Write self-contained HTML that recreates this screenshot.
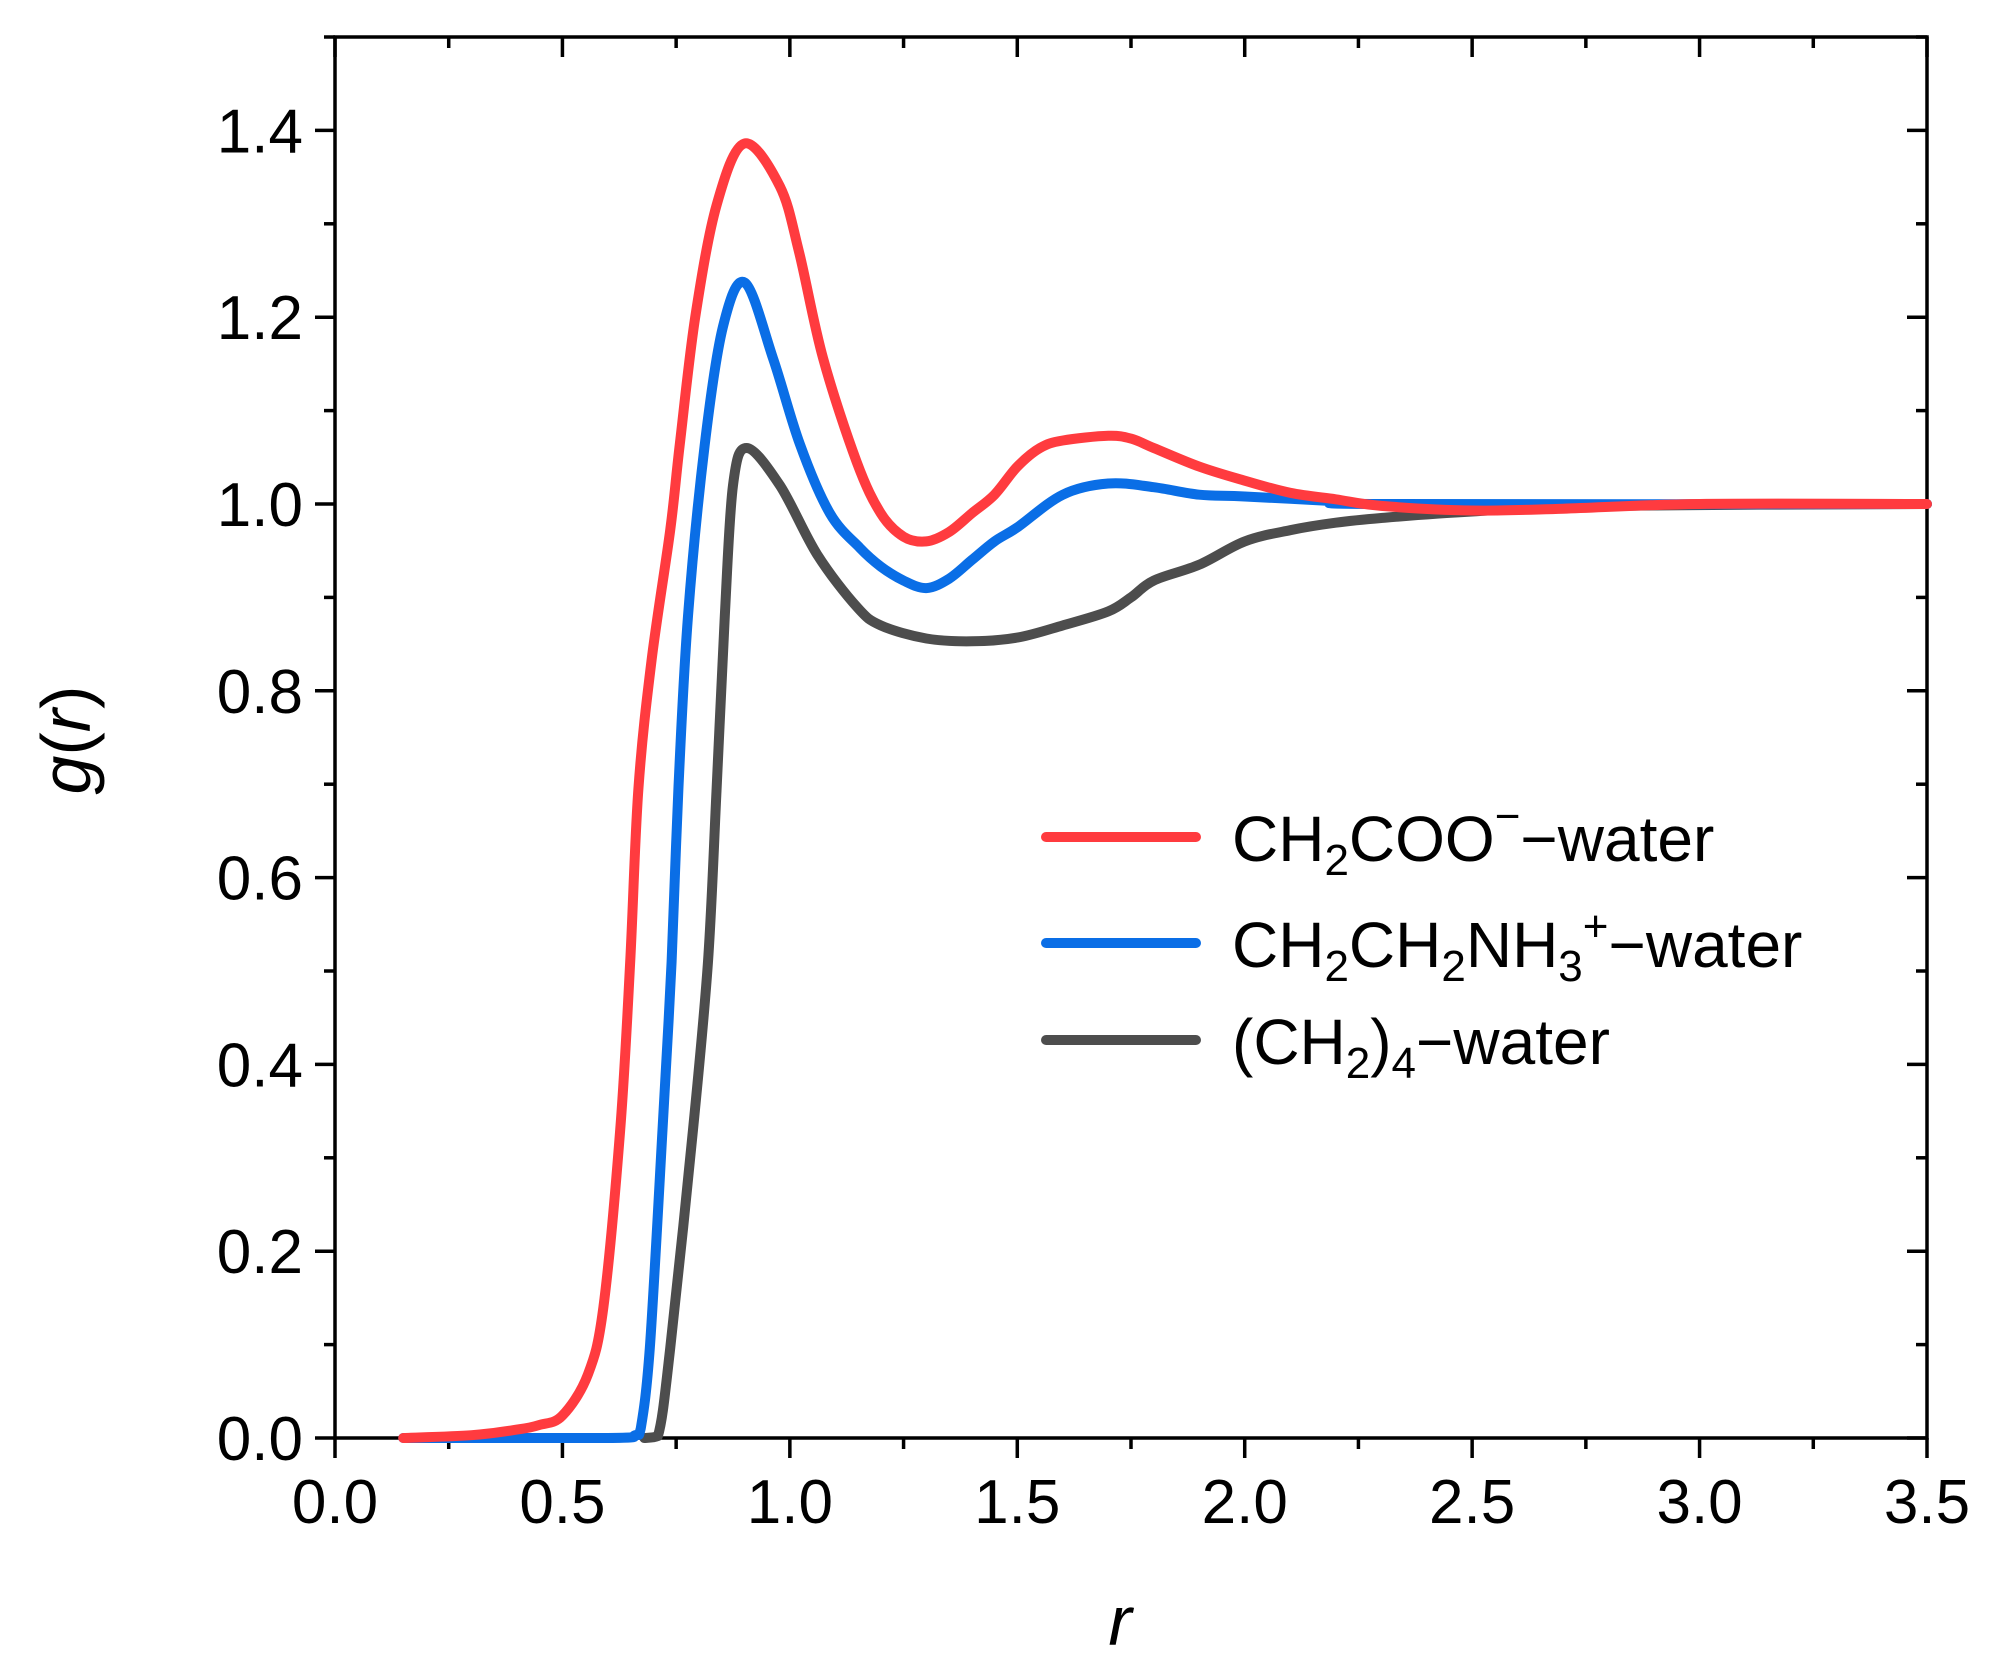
<!DOCTYPE html>
<html><head><meta charset="utf-8"><style>
html,body{margin:0;padding:0;background:#fff;}
svg{display:block;font-family:"Liberation Sans",Arial,sans-serif;}
</style></head><body>
<svg id="chart" width="1993" height="1677" viewBox="0 0 1993 1677">
<g id="axes"></g>
<g id="series"></g>
<g id="legend"></g>
</svg>
<script>
const xTicks=[0,0.5,1.0,1.5,2.0,2.5,3.0,3.5];
const xTickLabels=["0.0","0.5","1.0","1.5","2.0","2.5","3.0","3.5"];
const yTicks=[0,0.2,0.4,0.6,0.8,1.0,1.2,1.4];
const yTickLabels=["0.0","0.2","0.4","0.6","0.8","1.0","1.2","1.4"];
const redR=[0.15,0.3,0.4,0.45,0.5,0.556,0.59,0.627,0.649,0.667,0.696,0.737,0.758,0.792,0.839,0.9,0.978,1.02,1.073,1.147,1.2,1.25,1.3,1.35,1.4,1.45,1.5,1.55,1.6,1.7,1.75,1.8,1.9,2.0,2.1,2.2,2.3,2.5,2.7,3.0,3.5];
const redG=[0,0.003,0.009,0.014,0.024,0.068,0.14,0.33,0.51,0.695,0.833,0.972,1.064,1.2,1.32,1.386,1.34,1.27,1.156,1.045,0.99,0.965,0.96,0.97,0.99,1.01,1.04,1.06,1.068,1.073,1.07,1.06,1.04,1.025,1.012,1.005,0.998,0.993,0.995,1.0,1.0];
const blueR=[0.15,0.6,0.66,0.672,0.692,0.72,0.74,0.755,0.776,0.813,0.853,0.901,0.963,1.022,1.088,1.154,1.2,1.25,1.3,1.35,1.4,1.45,1.5,1.6,1.7,1.8,1.9,2.0,2.2,2.3,3.5];
const blueG=[0,0,0.003,0.01,0.096,0.33,0.51,0.695,0.88,1.064,1.19,1.237,1.156,1.064,0.99,0.953,0.933,0.918,0.91,0.92,0.94,0.96,0.975,1.01,1.022,1.018,1.01,1.008,1.003,1.0,1.0];
const grayR=[0.68,0.71,0.737,0.787,0.82,0.839,0.857,0.875,0.905,0.978,1.06,1.147,1.2,1.3,1.4,1.5,1.6,1.7,1.75,1.8,1.9,2.0,2.1,2.2,2.3,2.5,2.8,3.5];
const grayG=[0,0.002,0.096,0.33,0.51,0.695,0.88,1.02,1.06,1.02,0.946,0.89,0.87,0.856,0.853,0.857,0.87,0.885,0.9,0.918,0.935,0.96,0.972,0.98,0.985,0.992,0.998,1.0];

const L=335,R=1927,B=1438,T=37;
const xs=v=>L+(v/3.5)*(R-L);
const ys=v=>B-(v/1.5)*(B-T);
const NS="http://www.w3.org/2000/svg";
function mk(tag,attrs,parent){const e=document.createElementNS(NS,tag);for(const k in attrs)e.setAttribute(k,attrs[k]);parent.appendChild(e);return e;}
const axes=document.getElementById('axes');
const frame=mk('rect',{x:L,y:T,width:R-L,height:B-T,fill:'none',stroke:'#000','stroke-width':3.5},axes);


xTicks.forEach((t,i)=>{
  const x=xs(t);
  const tk=mk('line',{x1:x,x2:x,y1:B,y2:B+20,stroke:'#000','stroke-width':3.5},axes);
  
  
  mk('line',{x1:x,x2:x,y1:T,y2:T+20,stroke:'#000','stroke-width':3.5},axes);
  const lb=mk('text',{x:x,y:B+85,'font-size':62,'text-anchor':'middle'},axes);
  lb.textContent=xTickLabels[i];
  
  
  if(i<xTicks.length-1){const m=xs(t+0.25);
    mk('line',{x1:m,x2:m,y1:B,y2:B+11,stroke:'#000','stroke-width':3.5},axes);
    mk('line',{x1:m,x2:m,y1:T,y2:T+11,stroke:'#000','stroke-width':3.5},axes);}
});
yTicks.forEach((t,i)=>{
  const y=ys(t);
  const tk=mk('line',{x1:L-20,x2:L,y1:y,y2:y,stroke:'#000','stroke-width':3.5},axes);
  
  
  mk('line',{x1:R-20,x2:R,y1:y,y2:y,stroke:'#000','stroke-width':3.5},axes);
  const lb=mk('text',{x:L-32,y:y+22,'font-size':62,'text-anchor':'end'},axes);
  lb.textContent=yTickLabels[i];
  
  
  const m=ys(t+0.1);
  mk('line',{x1:L-11,x2:L,y1:m,y2:m,stroke:'#000','stroke-width':3.5},axes);
  mk('line',{x1:R-11,x2:R,y1:m,y2:m,stroke:'#000','stroke-width':3.5},axes);
});
const xt=mk('text',{x:1120,y:1645,'font-size':70,'font-style':'italic','text-anchor':'middle'},axes);
xt.textContent='r';


const yt=mk('text',{x:0,y:0,'font-size':70,'text-anchor':'middle',transform:'translate(90,740) rotate(-90)'},axes);
yt.innerHTML='<tspan font-style="italic">g</tspan>(<tspan font-style="italic">r</tspan>)';



const ser=document.getElementById('series');
function smoothPath(p){
  const yb=ys(0);
  let d='M'+p[0][0].toFixed(1)+','+p[0][1].toFixed(1);
  for(let i=0;i<p.length-1;i++){
    const p0=p[Math.max(0,i-1)],p1=p[i],p2=p[i+1],p3=p[Math.min(p.length-1,i+2)];
    const c1=[p1[0]+(p2[0]-p0[0])/6,Math.min(yb,p1[1]+(p2[1]-p0[1])/6)];
    const c2=[p2[0]-(p3[0]-p1[0])/6,Math.min(yb,p2[1]-(p3[1]-p1[1])/6)];
    d+=' C'+c1[0].toFixed(1)+','+c1[1].toFixed(1)+' '+c2[0].toFixed(1)+','+c2[1].toFixed(1)+' '+p2[0].toFixed(1)+','+p2[1].toFixed(1);
  }
  return d;
}
function drawLine(rs,gs,color,name){
  const pts=rs.map((r,i)=>[xs(r),ys(gs[i])]);
  const p=mk('path',{d:smoothPath(pts),fill:'none',stroke:color,'stroke-width':10,'stroke-linejoin':'round','stroke-linecap':'round'},ser);
  
  
}
drawLine(grayR,grayG,'#4d4d4d','ch2-4-water-line');
drawLine(blueR,blueG,'#0a6ee6','ch2ch2nh3-water-line');
drawLine(redR,redG,'#ff3b3f','ch2coo-water-line');

const leg=document.getElementById('legend');
const entries=[
 {c:'#ff3b3f',y:837,n:'legend-entry-ch2coo',h:'CH<tspan font-size="44" dy="14">2</tspan><tspan dy="-14">COO</tspan><tspan font-size="44" dy="-30">−</tspan><tspan dy="30">−water</tspan>'},
 {c:'#0a6ee6',y:943,n:'legend-entry-ch2ch2nh3',h:'CH<tspan font-size="44" dy="14">2</tspan><tspan dy="-14">CH</tspan><tspan font-size="44" dy="14">2</tspan><tspan dy="-14">NH</tspan><tspan font-size="44" dy="14">3</tspan><tspan font-size="44" dy="-40">+</tspan><tspan dy="26">−water</tspan>'},
 {c:'#4d4d4d',y:1040,n:'legend-entry-ch2-4',h:'(CH<tspan font-size="44" dy="14">2</tspan><tspan dy="-14">)</tspan><tspan font-size="44" dy="14">4</tspan><tspan dy="-14">−water</tspan>'}
];
entries.forEach(e=>{
  const g=mk('g',{},leg);
  
  
  mk('line',{x1:1046,x2:1196,y1:e.y,y2:e.y,stroke:e.c,'stroke-width':10,'stroke-linecap':'round'},g);
  const t=mk('text',{x:1232,y:e.y+24,'font-size':64},g);
  t.innerHTML=e.h;
});
</script>
</body></html>
